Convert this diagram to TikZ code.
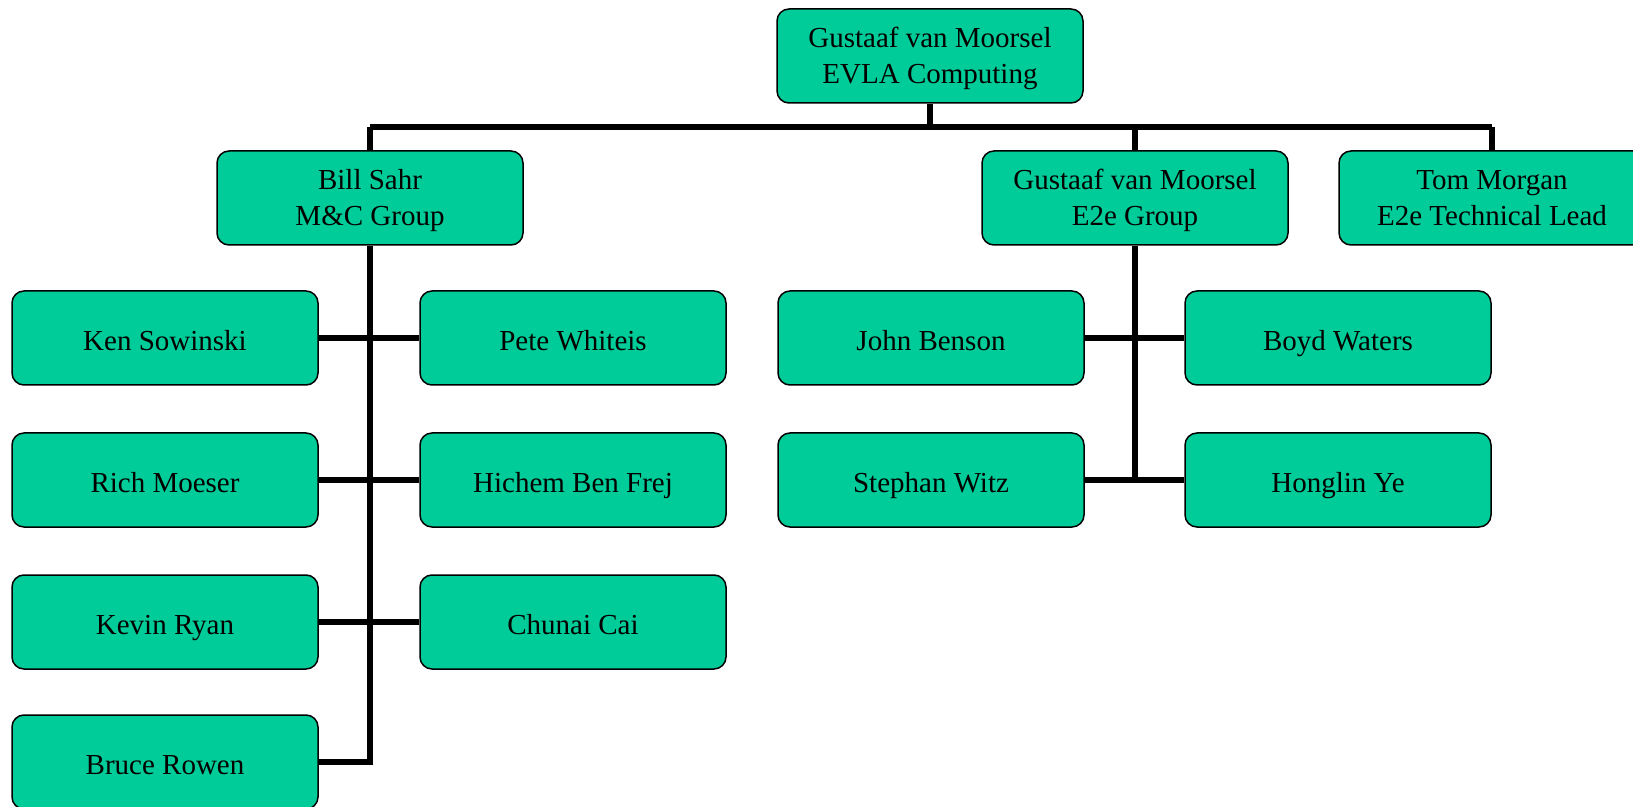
\documentclass[tikz,border=0pt]{standalone}
\usepackage{fontspec}
\setmainfont{Liberation Serif}
\usepackage{tikz}
\definecolor{boxgreen}{HTML}{00CC99}

\begin{document}
\begin{tikzpicture}[x=0.5pt, y=-0.5pt, font=\fontsize{14.5pt}{18pt}\selectfont,
		person/.style={draw=black, line width=0.75pt, fill=boxgreen, rounded corners=6pt,
			minimum width=153pt, minimum height=47pt, align=center, inner sep=0pt,
			execute at begin node={\rule{0pt}{#1}}, execute at end node={\rule[-4.5pt]{0pt}{4.5pt}}},
		person/.default=16.9pt,
		lead/.style={person=32.5pt},
		link/.style={line width=2.6pt}]
		\useasboundingbox (0,0) rectangle (1633,807);
		% top of the chart
		\node[lead] (vanmoorsel) at (930,56) {Gustaaf van Moorsel\\EVLA Computing};
		% group leads
		\node[lead] (sahr) at (370,198) {Bill Sahr\\M\&C Group};
		\node[lead] (e2e) at (1135,198) {Gustaaf van Moorsel\\E2e Group};
		\node[lead] (morgan) at (1492,198) {Tom Morgan\\E2e Technical Lead};
		% M&C group members
		\node[person] (sowinski) at (165,338) {Ken Sowinski};
		\node[person] (moeser) at (165,480) {Rich Moeser};
		\node[person] (ryan) at (165,622) {Kevin Ryan};
		\node[person] (rowen) at (165,762) {Bruce Rowen};
		\node[person] (whiteis) at (573,338) {Pete Whiteis};
		\node[person] (benfrej) at (573,480) {Hichem Ben Frej};
		\node[person] (cai) at (573,622) {Chunai Cai};
		% E2e group members
		\node[person] (benson) at (931,338) {John Benson};
		\node[person] (witz) at (931,480) {Stephan Witz};
		\node[person] (waters) at (1338,338) {Boyd Waters};
		\node[person] (ye) at (1338,480) {Honglin Ye};
		% bus below the top box
		\coordinate (busL) at (370,127);
		\coordinate (busR) at (1492,127);
		\draw[link] (busL) -- (busR);
		\draw[link] (vanmoorsel.south) -- (vanmoorsel.south |- busL);
		\draw[link] (sahr.north) -- (sahr.north |- busL);
		\draw[link] (e2e.north) -- (e2e.north |- busL);
		\draw[link] (morgan.north) -- (morgan.north |- busL);
		% M&C trunk and branches
		\draw[link] (sahr.south) -- (sahr.south |- rowen.east) -- (rowen.east);
		\draw[link] (sowinski.east) -- (whiteis.west);
		\draw[link] (moeser.east) -- (benfrej.west);
		\draw[link] (ryan.east) -- (cai.west);
		% E2e trunk and branches
		\draw[link] (e2e.south) -- (e2e.south |- witz.east);
		\draw[link] (benson.east) -- (waters.west);
		\draw[link] (witz.east) -- (ye.west);
	\end{tikzpicture}
\end{document}
